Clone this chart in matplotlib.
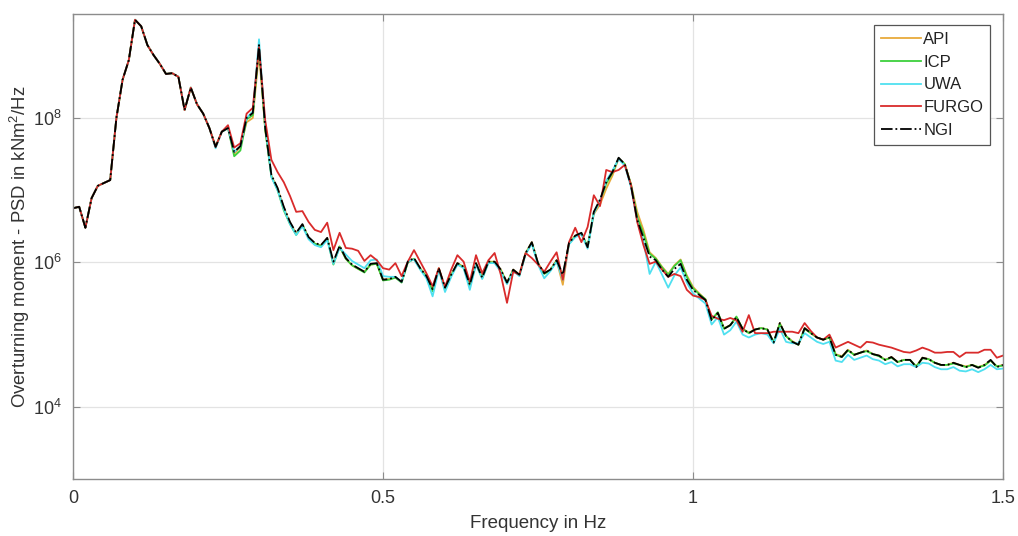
import numpy as np
import matplotlib
matplotlib.use("Agg")
import matplotlib.pyplot as plt
from matplotlib.ticker import FixedLocator, NullLocator, FuncFormatter

plt.rcParams['font.family'] = ['Liberation Sans', 'DejaVu Sans']
plt.rcParams['mathtext.fontset'] = 'custom'
plt.rcParams['mathtext.rm'] = 'Liberation Sans'
plt.rcParams['mathtext.it'] = 'Liberation Sans:italic'
plt.rcParams['mathtext.bf'] = 'Liberation Sans:bold'

# Frequency axis (Hz), 0.01 Hz resolution
freq = np.round(np.arange(0, 151) * 0.01, 2)

# log10 of overturning-moment PSD (kNm^2/Hz) for each soil model
ngi_log = [
    6.75, 6.77, 6.48, 6.89, 7.06, 7.10, 7.14, 8.00, 8.53, 8.80,
    9.36, 9.27, 9.01, 8.87, 8.75, 8.61, 8.62, 8.57, 8.11, 8.42,
    8.19, 8.06, 7.86, 7.60, 7.81, 7.86, 7.53, 7.61, 8.00, 8.07,
    9.01, 7.86, 7.21, 7.03, 6.77, 6.56, 6.41, 6.53, 6.35, 6.27,
    6.24, 6.34, 6.01, 6.23, 6.06, 5.97, 5.92, 5.87, 5.98, 5.99,
    5.76, 5.77, 5.80, 5.73, 6.01, 6.06, 5.92, 5.81, 5.63, 5.92,
    5.65, 5.83, 5.99, 5.94, 5.69, 5.99, 5.79, 6.01, 6.01, 5.90,
    5.72, 5.90, 5.83, 6.13, 6.28, 5.99, 5.85, 5.90, 6.03, 5.83,
    6.27, 6.37, 6.41, 6.21, 6.70, 6.87, 7.11, 7.25, 7.45, 7.36,
    7.06, 6.59, 6.34, 6.08, 6.03, 5.90, 5.80, 5.91, 5.98, 5.76,
    5.62, 5.55, 5.48, 5.20, 5.30, 5.08, 5.13, 5.24, 5.08, 5.02,
    5.07, 5.09, 5.07, 4.89, 5.16, 4.98, 4.90, 4.86, 5.09, 5.02,
    4.96, 4.93, 4.96, 4.72, 4.69, 4.79, 4.72, 4.75, 4.78, 4.73,
    4.71, 4.65, 4.69, 4.62, 4.65, 4.65, 4.55, 4.68, 4.66, 4.61,
    4.58, 4.58, 4.61, 4.58, 4.55, 4.58, 4.54, 4.58, 4.65, 4.55,
    4.58,
]

furgo_log = [
    6.75, 6.77, 6.48, 6.89, 7.06, 7.10, 7.14, 8.00, 8.53, 8.80,
    9.36, 9.27, 9.01, 8.87, 8.75, 8.61, 8.62, 8.57, 8.11, 8.42,
    8.19, 8.06, 7.86, 7.60, 7.81, 7.90, 7.59, 7.65, 8.06, 8.14,
    8.98, 7.97, 7.42, 7.25, 7.11, 6.92, 6.70, 6.71, 6.56, 6.45,
    6.42, 6.55, 6.17, 6.41, 6.20, 6.19, 6.16, 6.02, 6.10, 6.03,
    5.92, 5.90, 5.99, 5.81, 6.01, 6.17, 6.01, 5.85, 5.67, 5.92,
    5.66, 5.90, 6.10, 6.01, 5.73, 6.10, 5.85, 6.03, 6.13, 5.83,
    5.44, 5.87, 5.83, 6.13, 6.06, 5.97, 5.87, 6.01, 6.14, 5.76,
    6.28, 6.48, 6.28, 6.49, 6.93, 6.78, 7.28, 7.25, 7.28, 7.35,
    7.07, 6.56, 6.24, 5.98, 6.01, 5.90, 5.80, 5.84, 5.81, 5.62,
    5.54, 5.52, 5.48, 5.26, 5.22, 5.20, 5.23, 5.20, 5.04, 5.27,
    5.02, 5.02, 5.02, 5.04, 5.04, 5.04, 5.04, 5.02, 5.16, 5.05,
    4.96, 4.93, 5.00, 4.82, 4.86, 4.90, 4.86, 4.82, 4.90, 4.89,
    4.86, 4.84, 4.82, 4.79, 4.76, 4.75, 4.78, 4.82, 4.79, 4.75,
    4.75, 4.76, 4.76, 4.69, 4.75, 4.75, 4.75, 4.79, 4.79, 4.68,
    4.71,
]

uwa_log = [
    6.75, 6.77, 6.48, 6.89, 7.06, 7.10, 7.14, 8.00, 8.53, 8.80,
    9.36, 9.27, 9.01, 8.87, 8.75, 8.61, 8.62, 8.57, 8.11, 8.42,
    8.19, 8.06, 7.86, 7.58, 7.81, 7.86, 7.53, 7.61, 8.00, 8.09,
    9.09, 7.90, 7.18, 7.00, 6.74, 6.53, 6.38, 6.50, 6.32, 6.24,
    6.21, 6.31, 5.98, 6.20, 6.11, 6.02, 5.97, 5.92, 6.03, 6.04,
    5.81, 5.80, 5.80, 5.73, 6.01, 6.04, 5.90, 5.78, 5.53, 5.90,
    5.59, 5.80, 5.97, 5.92, 5.62, 5.97, 5.77, 5.99, 5.99, 5.87,
    5.70, 5.88, 5.81, 6.11, 6.26, 5.97, 5.78, 5.88, 6.01, 5.76,
    6.25, 6.35, 6.39, 6.19, 6.68, 6.85, 7.13, 7.27, 7.43, 7.34,
    7.04, 6.57, 6.30, 5.84, 6.01, 5.83, 5.65, 5.82, 5.93, 5.72,
    5.57, 5.50, 5.43, 5.14, 5.24, 5.00, 5.06, 5.18, 5.00, 4.96,
    5.00, 5.02, 5.00, 4.88, 5.08, 4.90, 4.88, 4.88, 5.02, 4.96,
    4.90, 4.87, 4.90, 4.64, 4.62, 4.72, 4.65, 4.68, 4.71, 4.66,
    4.64, 4.59, 4.62, 4.56, 4.59, 4.59, 4.55, 4.61, 4.60, 4.55,
    4.52, 4.52, 4.55, 4.50, 4.49, 4.52, 4.48, 4.52, 4.58, 4.52,
    4.53,
]

icp_log = [
    6.75, 6.77, 6.48, 6.89, 7.06, 7.10, 7.14, 8.00, 8.53, 8.80,
    9.36, 9.27, 9.01, 8.87, 8.75, 8.61, 8.62, 8.57, 8.11, 8.42,
    8.19, 8.06, 7.86, 7.60, 7.81, 7.86, 7.47, 7.55, 7.98, 8.04,
    8.99, 7.84, 7.19, 7.00, 6.72, 6.53, 6.38, 6.52, 6.34, 6.26,
    6.23, 6.33, 5.97, 6.22, 6.05, 5.96, 5.91, 5.86, 5.97, 5.98,
    5.75, 5.76, 5.79, 5.72, 6.00, 6.05, 5.91, 5.80, 5.60, 5.91,
    5.62, 5.82, 5.98, 5.93, 5.67, 5.98, 5.78, 6.00, 6.00, 5.89,
    5.71, 5.89, 5.82, 6.12, 6.27, 5.98, 5.84, 5.89, 6.02, 5.81,
    6.26, 6.36, 6.40, 6.22, 6.69, 6.85, 7.09, 7.24, 7.44, 7.36,
    7.08, 6.63, 6.40, 6.12, 6.05, 5.93, 5.83, 5.95, 6.03, 5.80,
    5.64, 5.56, 5.49, 5.21, 5.31, 5.08, 5.13, 5.25, 5.08, 5.02,
    5.07, 5.09, 5.07, 4.89, 5.15, 4.98, 4.90, 4.86, 5.08, 5.02,
    4.96, 4.93, 4.96, 4.72, 4.69, 4.78, 4.72, 4.75, 4.77, 4.73,
    4.70, 4.65, 4.68, 4.62, 4.65, 4.65, 4.56, 4.67, 4.66, 4.61,
    4.58, 4.58, 4.60, 4.58, 4.55, 4.58, 4.55, 4.57, 4.64, 4.56,
    4.57,
]

api_log = [
    6.75, 6.77, 6.48, 6.89, 7.06, 7.10, 7.14, 8.00, 8.53, 8.80,
    9.36, 9.27, 9.01, 8.87, 8.75, 8.61, 8.62, 8.57, 8.11, 8.42,
    8.19, 8.06, 7.86, 7.60, 7.81, 7.86, 7.50, 7.60, 7.94, 8.00,
    8.90, 7.84, 7.20, 7.02, 6.76, 6.55, 6.40, 6.52, 6.34, 6.26,
    6.23, 6.33, 5.99, 6.22, 6.05, 5.96, 5.91, 5.87, 5.97, 5.98,
    5.76, 5.77, 5.79, 5.73, 6.00, 6.05, 5.92, 5.81, 5.62, 5.92,
    5.64, 5.83, 5.99, 5.94, 5.68, 5.99, 5.79, 6.01, 6.01, 5.90,
    5.72, 5.90, 5.83, 6.13, 6.28, 5.99, 5.85, 5.90, 6.03, 5.69,
    6.27, 6.37, 6.40, 6.21, 6.67, 6.80, 7.02, 7.20, 7.44, 7.36,
    7.08, 6.70, 6.45, 6.14, 6.06, 5.94, 5.84, 5.96, 6.04, 5.82,
    5.66, 5.57, 5.49, 5.21, 5.30, 5.09, 5.13, 5.24, 5.08, 5.03,
    5.07, 5.09, 5.07, 4.89, 5.16, 4.98, 4.91, 4.86, 5.09, 5.02,
    4.96, 4.93, 4.96, 4.73, 4.70, 4.79, 4.72, 4.75, 4.78, 4.73,
    4.71, 4.65, 4.69, 4.62, 4.65, 4.65, 4.56, 4.68, 4.66, 4.61,
    4.58, 4.58, 4.61, 4.58, 4.56, 4.58, 4.55, 4.58, 4.64, 4.56,
    4.58,
]

series_names = ["API", "ICP", "UWA", "FURGO", "NGI"]
series_logs = [api_log, icp_log, uwa_log, furgo_log, ngi_log]
series_colors = ["#E8AA3C", "#3DD03D", "#4FE0F0", "#D92B2B", "#000000"]
series_styles = ["-", "-", "-", "-", "-."]

x_ticks = [0, 0.5, 1, 1.5]
x_tick_labels = ["0", "0.5", "1", "1.5"]
y_ticks = [1e4, 1e6, 1e8]

fig = plt.figure(figsize=(10.18, 5.36), dpi=100)
ax = fig.add_axes([0.0717, 0.1063, 0.9136, 0.8676])

for name, logs, color, ls in zip(series_names, series_logs, series_colors, series_styles):
    psd = 10.0 ** np.asarray(logs)
    ax.plot(freq, psd, color=color, linestyle=ls, linewidth=1.3, label=name)

ax.set_yscale("log")
ax.set_xlim(0, 1.5)
ax.set_ylim(1e3, 10 ** 9.44)

ax.xaxis.set_major_locator(FixedLocator(x_ticks))
ax.set_xticklabels(x_tick_labels)
ax.yaxis.set_major_locator(FixedLocator(y_ticks))
ax.yaxis.set_minor_locator(NullLocator())
ax.yaxis.set_major_formatter(
    FuncFormatter(lambda v, pos: r"$10^{%d}$" % int(round(np.log10(v)))))

ax.grid(True, color="#E3E3E3", linewidth=0.9)
ax.set_axisbelow(True)

tick_color = "#333333"
for spine in ax.spines.values():
    spine.set_color("#8C8C8C")
    spine.set_linewidth(1.0)
ax.tick_params(axis="both", which="both", direction="in", length=5,
               color="#8C8C8C", top=True, right=True,
               labelsize=13, labelcolor=tick_color, pad=8)

ax.set_xlabel("Frequency in Hz", fontsize=13.5, color=tick_color, labelpad=6)
ax.set_ylabel("Overturning moment - PSD in kNm$^2$/Hz", fontsize=13.3,
              color=tick_color, labelpad=1)

leg = ax.legend(loc="upper right", bbox_to_anchor=(0.986, 0.976),
                borderaxespad=0, fontsize=12, handlelength=2.4,
                handletextpad=0.15, labelspacing=0.47, borderpad=0.4,
                fancybox=False, framealpha=1)
leg.get_frame().set_edgecolor("#555555")
leg.get_frame().set_linewidth(0.9)
for t in leg.get_texts():
    t.set_color("#222222")

fig.savefig("out.png", dpi=100)
